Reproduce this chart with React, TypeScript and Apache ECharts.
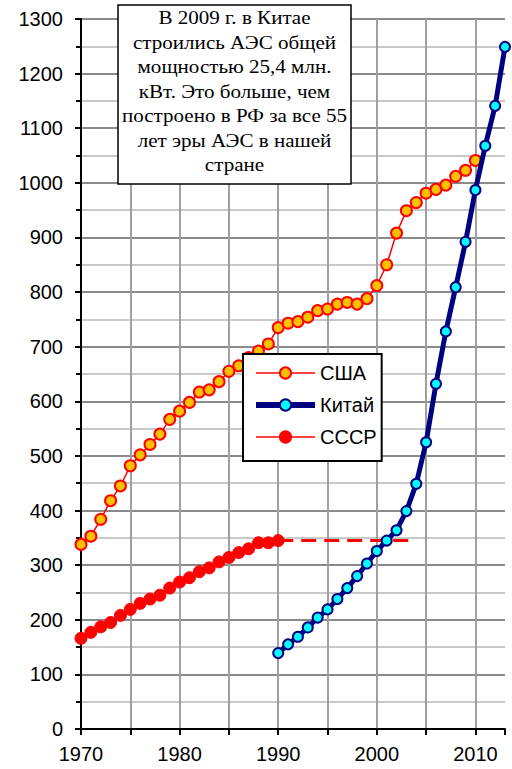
import React, { useEffect, useRef } from "react";
import * as echarts from "echarts";

const usaStart = 1970;
const usaValues = [338, 353, 384, 418, 445, 482, 502, 521, 540, 567, 582, 598, 617, 621, 636, 655, 665, 680, 692, 705, 735, 743, 746, 754, 766, 769, 778, 781, 778, 788, 812, 850, 908, 949, 964, 981, 988, 996, 1012, 1023, 1041];

const chinaStart = 1990;
const chinaValues = [139, 155, 169, 186, 204, 219, 238, 258, 280, 303, 326, 345, 364, 399, 449, 525, 632, 728, 809, 892, 987, 1068, 1141, 1249];

const ussrStart = 1970;
const ussrValues = [166, 177, 187, 195, 208, 219, 230, 238, 245, 258, 269, 277, 288, 295, 306, 314, 323, 330, 341, 341, 345];

const ussrDashYears = [1990, 2004];
const ussrDashValue = 345;

const seriesNames = ["США", "Китай", "СССР"];

const noteLines = [
  "В 2009 г. в Китае",
  "строились АЭС общей",
  "мощностью 25,4 млн.",
  "кВт. Это больше, чем",
  "построено в РФ за все 55",
  "лет эры АЭС в нашей",
  "стране",
];

const toPairs = (start: number, vals: number[]) => vals.map((v, i) => [start + i, v]);

export default function App() {
  const ref = useRef<HTMLDivElement>(null);
  useEffect(() => {
    if (!ref.current) return;
    const chart = echarts.init(ref.current, null, { renderer: "svg" });
    chart.setOption({
      animation: false,
      backgroundColor: "#fff",
      grid: { left: 81, right: 7, top: 19, bottom: 40, containLabel: false },
      xAxis: {
        type: "value",
        min: 1970,
        max: 2013,
        interval: 5,
        axisLine: { show: true, lineStyle: { color: "#000", width: 2 } },
        axisTick: { show: true, length: 6, lineStyle: { color: "#000", width: 2 } },
        axisLabel: {
          margin: 15,
          color: "#000",
          fontSize: 20,
          fontFamily: "Liberation Sans, Arial, sans-serif",
          formatter: (v: number) => (v % 10 === 0 ? String(v) : ""),
        },
        splitLine: { show: true, showMaxLine: false, lineStyle: { color: "#a0a0a0", width: 2 } },
      },
      yAxis: {
        type: "value",
        min: 0,
        max: 1300,
        interval: 100,
        axisLine: { show: true, lineStyle: { color: "#000", width: 2 } },
        axisTick: { show: true, length: 6, lineStyle: { color: "#000", width: 2 } },
        minorTick: { show: true, splitNumber: 2, length: 5, lineStyle: { color: "#000", width: 2 } },
        axisLabel: {
          margin: 18,
          color: "#000",
          fontSize: 20,
          fontFamily: "Liberation Sans, Arial, sans-serif",
          formatter: (v: number) => String(v),
        },
        splitLine: { show: true, lineStyle: { color: "#8a8a8a", width: 2 } },
        minorSplitLine: { show: true, lineStyle: { color: "#c8c8c8", width: 2 } },
      },
      legend: {
        data: [
          { name: seriesNames[0], lineStyle: { width: 1.5 } },
          { name: seriesNames[1], lineStyle: { width: 6 } },
          { name: seriesNames[2], lineStyle: { width: 1.5 } },
        ],
        orient: "vertical",
        left: 243,
        top: 354,
        padding: [9, 5, 14, 10],
        itemWidth: 59,
        itemHeight: 14,
        itemGap: 12,
        backgroundColor: "#fff",
        borderColor: "#000",
        borderWidth: 2,
        borderRadius: 0,
        textStyle: { color: "#000", fontSize: 20, fontFamily: "Liberation Sans, Arial, sans-serif" },
      },
      graphic: [
        {
          type: "rect",
          z: 100,
          shape: { x: 118, y: 5, width: 233, height: 179 },
          style: { fill: "#fff", stroke: "#000", lineWidth: 1.5 },
        },
        {
          type: "text",
          z: 101,
          x: 234.5,
          y: 6,
          scaleX: 1.17,
          style: {
            text: noteLines.join("\n"),
            font: "18px 'Liberation Serif', 'Times New Roman', serif",
            fill: "#000",
            textAlign: "center",
            textVerticalAlign: "top",
            lineHeight: 24.5,
          },
        },
      ],
      series: [
        {
          name: "СССР-план",
          type: "line",
          data: ussrDashYears.map((y) => [y, ussrDashValue]),
          symbol: "none",
          lineStyle: { color: "#ff0000", width: 3, type: [15, 8] },
          z: 1,
          silent: true,
        },
        {
          name: "США",
          type: "line",
          data: toPairs(usaStart, usaValues),
          symbol: "circle",
          symbolSize: 11,
          lineStyle: { color: "#ff0000", width: 1.5 },
          itemStyle: { color: "#ffc000", borderColor: "#ff0000", borderWidth: 2 },
          z: 2,
        },
        {
          name: "Китай",
          type: "line",
          data: toPairs(chinaStart, chinaValues),
          symbol: "circle",
          symbolSize: 10,
          lineStyle: { color: "#000080", width: 5 },
          itemStyle: { color: "#00ffff", borderColor: "#000080", borderWidth: 2 },
          z: 3,
        },
        {
          name: "СССР",
          type: "line",
          data: toPairs(ussrStart, ussrValues),
          symbol: "circle",
          symbolSize: 12,
          lineStyle: { color: "#ff0000", width: 1.5 },
          itemStyle: { color: "#ff0000", borderColor: "#ff0000", borderWidth: 1 },
          z: 2,
        },
      ],
    });
    return () => chart.dispose();
  }, []);
  return <div ref={ref} style={{ position: "fixed", left: 0, top: 0, width: 512, height: 769 }} />;
}
